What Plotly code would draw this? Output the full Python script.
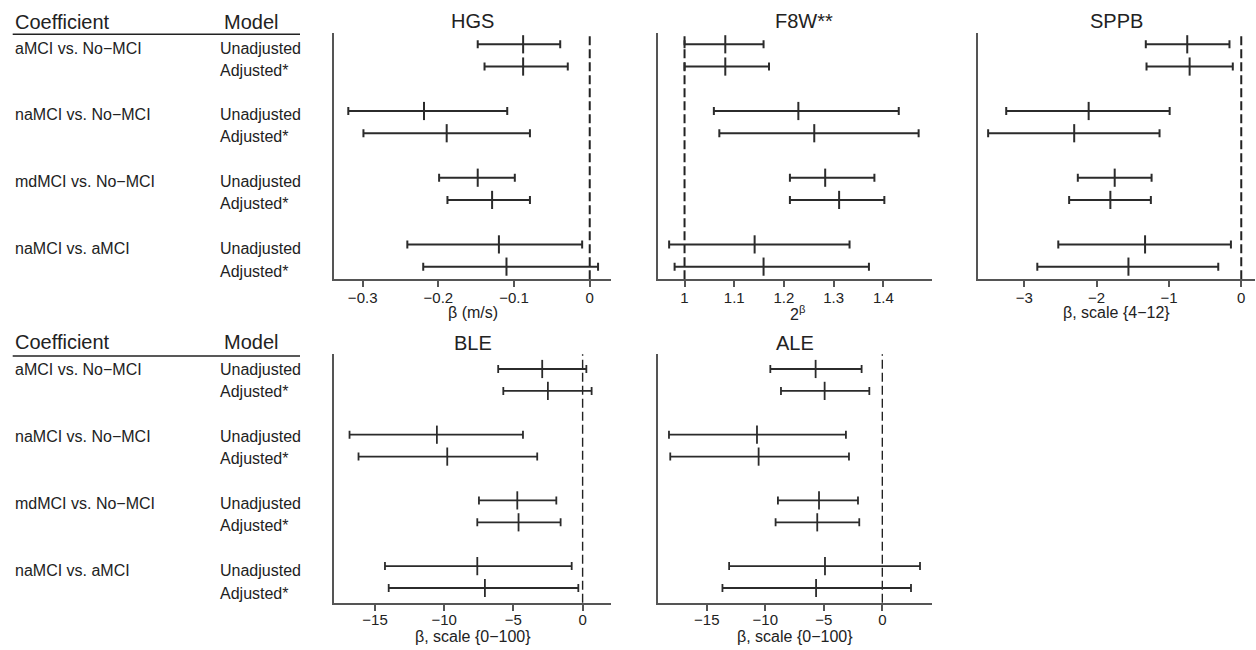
import plotly.graph_objects as go

# ---------------- data ----------------
categories = ["aMCI vs. No\u2212MCI", "naMCI vs. No\u2212MCI", "mdMCI vs. No\u2212MCI", "naMCI vs. aMCI"]
models = ["Unadjusted", "Adjusted*"]

hgs_est = [-0.088, -0.088, -0.219, -0.189, -0.148, -0.129, -0.120, -0.110]
hgs_lo = [-0.148, -0.139, -0.319, -0.299, -0.199, -0.188, -0.241, -0.220]
hgs_hi = [-0.039, -0.029, -0.109, -0.079, -0.099, -0.079, -0.010, 0.011]

f8w_est = [1.082, 1.082, 1.229, 1.261, 1.283, 1.311, 1.141, 1.159]
f8w_lo = [1.000, 1.000, 1.059, 1.070, 1.212, 1.212, 0.969, 0.980]
f8w_hi = [1.159, 1.170, 1.431, 1.471, 1.382, 1.402, 1.332, 1.371]

sppb_est = [-0.747, -0.714, -2.11, -2.31, -1.75, -1.81, -1.33, -1.56]
sppb_lo = [-1.32, -1.31, -3.25, -3.50, -2.26, -2.38, -2.53, -2.82]
sppb_hi = [-0.163, -0.117, -0.99, -1.13, -1.24, -1.25, -0.143, -0.318]

ble_est = [-2.92, -2.51, -10.53, -9.78, -4.72, -4.63, -7.61, -7.06]
ble_lo = [-6.10, -5.73, -16.84, -16.19, -7.49, -7.61, -14.28, -14.01]
ble_hi = [0.27, 0.65, -4.31, -3.28, -1.90, -1.59, -0.79, -0.31]

ale_est = [-5.70, -4.93, -10.71, -10.57, -5.41, -5.56, -4.90, -5.66]
ale_lo = [-9.57, -8.66, -18.23, -18.12, -8.92, -9.12, -13.09, -13.66]
ale_hi = [-1.77, -1.11, -3.11, -2.85, -2.08, -1.97, 3.22, 2.45]

hgs_ticks = [-0.3, -0.2, -0.1, 0]
hgs_ticklabels = ["\u22120.3", "\u22120.2", "\u22120.1", "0"]
f8w_ticks = [1, 1.1, 1.2, 1.3, 1.4]
f8w_ticklabels = ["1", "1.1", "1.2", "1.3", "1.4"]
sppb_ticks = [-3, -2, -1, 0]
sppb_ticklabels = ["\u22123", "\u22122", "\u22121", "0"]
le_ticks = [-15, -10, -5, 0]
le_ticklabels = ["\u221215", "\u221210", "\u22125", "0"]

# ---------------- layout helpers ----------------
W, H = 1256, 650
def px(x):
    return x / W
def py(y):
    return 1 - y / H

FONT = "Liberation Sans, Arial, Helvetica, sans-serif"
DARK = "#2b2b2b"
AXC = "#555555"

# y positions: group index * 3 + model index
ypos = [3 * g + m for g in range(len(categories)) for m in range(len(models))]

panels = [
    dict(title="HGS", xtitle="\u03b2 (m/s)", est=hgs_est, lo=hgs_lo, hi=hgs_hi, ref=0,
         xdom=(334.3, 611), ydom=(33.3, 279.3), xr=(-0.3375, 0.0281), yr=(10.57, -0.495),
         ticks=hgs_ticks, labels=hgs_ticklabels, tcx=472.5, tcy=20.7, xtx=472.5, xty=313, row=0),
    dict(title="F8W**", xtitle="2<sup>\u03b2</sup>", est=f8w_est, lo=f8w_lo, hi=f8w_hi, ref=1,
         xdom=(657.7, 932.3), ydom=(33.3, 279.3), xr=(0.946, 1.4985), yr=(10.57, -0.495),
         ticks=f8w_ticks, labels=f8w_ticklabels, tcx=804, tcy=20.7, xtx=797, xty=313, row=0),
    dict(title="SPPB", xtitle="\u03b2, scale {4\u221212}", est=sppb_est, lo=sppb_lo, hi=sppb_hi, ref=0,
         xdom=(978.3, 1255), ydom=(33.3, 279.3), xr=(-3.636, 0.19), yr=(10.57, -0.495),
         ticks=sppb_ticks, labels=sppb_ticklabels, tcx=1116, tcy=20.7, xtx=1116, xty=313, row=0),
    dict(title="BLE", xtitle="\u03b2, scale {0\u2212100}", est=ble_est, lo=ble_lo, hi=ble_hi, ref=0,
         xdom=(334.3, 611), ydom=(354.3, 602.7), xr=(-17.94, 2.05), yr=(10.67, -0.67),
         ticks=le_ticks, labels=le_ticklabels, tcx=472.8, tcy=342.7, xtx=473.3, xty=636, row=1),
    dict(title="ALE", xtitle="\u03b2, scale {0\u2212100}", est=ale_est, lo=ale_lo, hi=ale_hi, ref=0,
         xdom=(657.5, 932.3), ydom=(354.3, 602.7), xr=(-19.21, 4.27), yr=(10.67, -0.67),
         ticks=le_ticks, labels=le_ticklabels, tcx=794.8, tcy=342.7, xtx=795, xty=636, row=1),
]

fig = go.Figure()
annotations = []
shapes = []
layout_axes = {}

for i, p in enumerate(panels):
    n = i + 1
    xa = "x" if n == 1 else f"x{n}"
    ya = "y" if n == 1 else f"y{n}"
    xkey = "xaxis" if n == 1 else f"xaxis{n}"
    ykey = "yaxis" if n == 1 else f"yaxis{n}"
    lw = 2 if p["row"] == 0 else 1.8
    plus = [h - e for h, e in zip(p["hi"], p["est"])]
    minus = [e - l for e, l in zip(p["est"], p["lo"])]
    fig.add_trace(go.Scatter(
        x=p["est"], y=ypos, mode="markers", xaxis=xa, yaxis=ya, showlegend=False,
        marker=dict(symbol="line-ns", size=13, line=dict(width=lw, color=DARK), color=DARK),
        error_x=dict(type="data", symmetric=False, array=plus, arrayminus=minus,
                     width=4, thickness=lw, color=DARK),
        cliponaxis=False, hoverinfo="x",
    ))
    layout_axes[xkey] = dict(
        domain=[px(p["xdom"][0]), px(p["xdom"][1])], range=list(p["xr"]),
        anchor=ya, showline=True, linecolor=AXC, linewidth=2, mirror=False,
        showgrid=False, zeroline=False, ticks="outside", ticklen=6, tickwidth=1.5,
        tickcolor=AXC, tickvals=p["ticks"], ticktext=p["labels"],
        ticklabelstandoff=-2 if p["row"] == 0 else -4,
        tickfont=dict(family=FONT, size=15, color="#222"), fixedrange=True,
    )
    layout_axes[ykey] = dict(
        domain=[py(p["ydom"][1]), py(p["ydom"][0])], range=list(p["yr"]),
        anchor=xa, showline=True, linecolor=AXC, linewidth=2, showgrid=False,
        zeroline=False, showticklabels=False, ticks="", fixedrange=True,
    )
    shapes.append(dict(
        type="line", xref=xa, yref=f"{ya} domain", x0=p["ref"], x1=p["ref"], y0=0, y1=1,
        line=dict(color="#222", width=2 if p["row"] == 0 else 1.4, dash="9px,4px"),
        layer="below",
    ))
    annotations.append(dict(
        text=p["title"], x=px(p["tcx"]), y=py(p["tcy"]), xref="paper", yref="paper",
        xanchor="center", yanchor="middle", showarrow=False,
        font=dict(family=FONT, size=20, color="#222"),
    ))
    annotations.append(dict(
        text=p["xtitle"], x=px(p["xtx"]), y=py(p["xty"]), xref="paper", yref="paper",
        xanchor="center", yanchor="middle", showarrow=False,
        font=dict(family=FONT, size=16, color="#222"),
    ))

# ---------------- left tables ----------------
tables = [
    dict(header_y=21.7, line_y=34.3, rows=[(48.3, 70.0), (114.3, 136.7), (181.7, 203.3), (248.3, 271.0)]),
    dict(header_y=341.7, line_y=356.0, rows=[(369.3, 391.0), (436.7, 458.3), (503.3, 525.0), (570.0, 593.0)]),
]
for t in tables:
    annotations.append(dict(text="Coefficient", x=px(13), y=py(t["header_y"]), xref="paper", yref="paper",
                            xanchor="left", yanchor="middle", showarrow=False,
                            font=dict(family=FONT, size=20, color="#222")))
    annotations.append(dict(text="Model", x=px(221.5), y=py(t["header_y"]), xref="paper", yref="paper",
                            xanchor="left", yanchor="middle", showarrow=False,
                            font=dict(family=FONT, size=20, color="#222")))
    shapes.append(dict(type="line", xref="paper", yref="paper", x0=px(12.7), x1=px(300),
                       y0=py(t["line_y"]), y1=py(t["line_y"]), line=dict(color="#222", width=1.5)))
    for g, cat in enumerate(categories):
        annotations.append(dict(text=cat, x=px(13), y=py(t["rows"][g][0]), xref="paper", yref="paper",
                                xanchor="left", yanchor="middle", showarrow=False,
                                font=dict(family=FONT, size=16, color="#222")))
        for m, mod in enumerate(models):
            annotations.append(dict(text=mod, x=px(218.3), y=py(t["rows"][g][m]), xref="paper", yref="paper",
                                    xanchor="left", yanchor="middle", showarrow=False,
                                    font=dict(family=FONT, size=16, color="#222")))

fig.update_layout(
    width=W, height=H, autosize=False,
    margin=dict(l=0, r=0, t=0, b=0, pad=0),
    paper_bgcolor="white", plot_bgcolor="white",
    annotations=annotations, shapes=shapes,
    font=dict(family=FONT, color="#222"),
    **layout_axes,
)

fig.write_html("out.html", config={"displayModeBar": False},
               post_script="document.body.style.margin='0';document.body.style.overflow='hidden';")
